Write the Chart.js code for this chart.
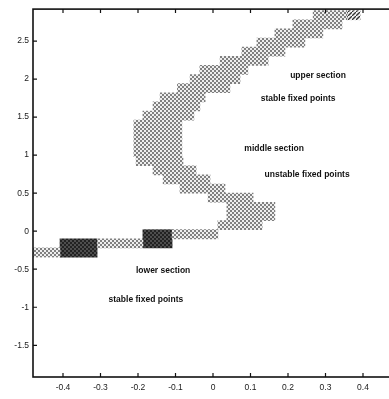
<!DOCTYPE html>
<html>
<head>
<meta charset="utf-8">
<script src="https://cdn.jsdelivr.net/npm/chart.js@4.4.1/dist/chart.umd.min.js"></script>
<style>
  html, body { margin: 0; padding: 0; background: #fff; overflow: hidden; }
  canvas { display: block; }
</style>
</head>
<body>
<canvas id="c" width="400" height="399"></canvas>
<script>
// Fixed-point band: one row every 0.12 in y, each row spans [from, to] in x
const lightY = [2.84, 2.72, 2.60, 2.48, 2.36, 2.24, 2.12, 2.00, 1.88, 1.76, 1.64, 1.52, 1.40,
                1.28, 1.16, 1.04, 0.92, 0.80, 0.68, 0.56, 0.44, 0.32, 0.20, 0.08, -0.04, -0.16, -0.28];
const lightFrom = [0.267, 0.213, 0.165, 0.117, 0.077, 0.019, -0.035, -0.061, -0.095, -0.141, -0.160, -0.187, -0.211,
                   -0.211, -0.211, -0.211, -0.205, -0.160, -0.133, -0.088, -0.013, 0.037, 0.037, 0.013, -0.109, -0.307, -0.483];
const lightTo = [0.357, 0.344, 0.293, 0.245, 0.192, 0.147, 0.093, 0.072, 0.045, -0.021, -0.035, -0.051, -0.083,
                 -0.083, -0.083, -0.083, -0.080, -0.045, -0.008, 0.032, 0.107, 0.165, 0.165, 0.131, 0.013, -0.187, -0.408];

// Dense (dark) blocks of the lower section
const darkY = [-0.04, -0.16, -0.16, -0.28];
const darkFrom = [-0.187, -0.187, -0.408, -0.408];
const darkTo = [-0.109, -0.109, -0.309, -0.309];

// Hatched cell at the top end of the band
const hatchY = [2.84];
const hatchFrom = [0.357];
const hatchTo = [0.392];

// Axis ticks
const xTicks = [-0.4, -0.3, -0.2, -0.1, 0, 0.1, 0.2, 0.3, 0.4];
const yTicks = [-1.5, -1, -0.5, 0, 0.5, 1, 1.5, 2, 2.5];

// Section notes (placed in data coordinates)
const notes = ['upper section', 'stable fixed points', 'middle section',
               'unstable fixed points', 'lower section', 'stable fixed points'];
const noteX = [0.28, 0.227, 0.163, 0.251, -0.133, -0.179];
const noteY = [2.047, 1.747, 1.082, 0.743, -0.522, -0.90];

const FONT = '"Liberation Sans", Arial, sans-serif';

function stipple(base, dot) {
  const t = document.createElement('canvas');
  t.width = 4; t.height = 4;
  const g = t.getContext('2d');
  g.fillStyle = base; g.fillRect(0, 0, 4, 4);
  g.fillStyle = dot; g.fillRect(0, 0, 2, 2); g.fillRect(2, 2, 2, 2);
  return g.createPattern(t, 'repeat');
}
function hatch(line) {
  const t = document.createElement('canvas');
  t.width = 4; t.height = 4;
  const g = t.getContext('2d');
  g.fillStyle = '#f2f2f2'; g.fillRect(0, 0, 4, 4);
  g.strokeStyle = line; g.lineWidth = 1.3;
  g.beginPath(); g.moveTo(-1, 5); g.lineTo(5, -1); g.stroke();
  return g.createPattern(t, 'repeat');
}

const rows = (ys, from, to) => ys.map((y, i) => ({ y: y, x: [from[i], to[i]] }));

const notePlugin = {
  id: 'notes',
  afterDatasetsDraw(chart) {
    const { ctx, scales: { x, y } } = chart;
    ctx.save();
    ctx.font = 'bold 8.5px ' + FONT;
    ctx.fillStyle = '#111';
    ctx.textAlign = 'center';
    ctx.textBaseline = 'middle';
    notes.forEach((t, i) => ctx.fillText(t, x.getPixelForValue(noteX[i]), y.getPixelForValue(noteY[i])));
    ctx.restore();
  }
};

// Box frame with inward tick marks on all four sides
const framePlugin = {
  id: 'frame',
  afterDraw(chart) {
    const { ctx, chartArea: { left, right, top, bottom }, scales: { x, y } } = chart;
    ctx.save();
    ctx.strokeStyle = '#111';
    ctx.lineWidth = 1.6;
    ctx.strokeRect(left, top, right - left, bottom - top);
    ctx.lineWidth = 1.2;
    ctx.beginPath();
    xTicks.forEach(v => {
      const px = x.getPixelForValue(v);
      ctx.moveTo(px, bottom); ctx.lineTo(px, bottom - 4);
      ctx.moveTo(px, top); ctx.lineTo(px, top + 4);
    });
    yTicks.forEach(v => {
      const py = y.getPixelForValue(v);
      ctx.moveTo(left, py); ctx.lineTo(left + 4, py);
      ctx.moveTo(right, py); ctx.lineTo(right - 4, py);
    });
    ctx.stroke();
    ctx.restore();
  }
};

new Chart(document.getElementById('c'), {
  type: 'bar',
  data: {
    datasets: [
      { data: rows(lightY, lightFrom, lightTo), backgroundColor: stipple('#eeeeee', '#808080') },
      { data: rows(darkY, darkFrom, darkTo), backgroundColor: stipple('#4e4e4e', '#222222') },
      { data: rows(hatchY, hatchFrom, hatchTo), backgroundColor: hatch('#333') }
    ]
  },
  options: {
    indexAxis: 'y',
    responsive: false,
    devicePixelRatio: 1,
    animation: false,
    datasets: { bar: { grouped: false, barPercentage: 1, categoryPercentage: 1, borderWidth: 0 } },
    layout: { padding: { top: 6, right: 7, left: 0, bottom: 0 } },
    plugins: { legend: { display: false }, tooltip: { enabled: false } },
    scales: {
      x: {
        type: 'linear', min: -0.48, max: 0.48,
        grid: { display: false, drawTicks: false },
        border: { display: false },
        afterBuildTicks: s => { s.ticks = xTicks.map(v => ({ value: v })); },
        afterFit: s => { s.height = 22; },
        ticks: { padding: 6, color: '#1a1a1a', font: { size: 8.5, family: FONT },
                 maxRotation: 0, autoSkip: false, callback: v => String(v) }
      },
      y: {
        type: 'linear', min: -1.917, max: 2.92, offset: false,
        grid: { display: false, drawTicks: false, offset: false },
        border: { display: false },
        afterBuildTicks: s => { s.ticks = yTicks.map(v => ({ value: v })); },
        afterFit: s => { s.width = 33; },
        ticks: { padding: 4, color: '#1a1a1a', font: { size: 8.5, family: FONT },
                 autoSkip: false, callback: v => String(v) }
      }
    }
  },
  plugins: [notePlugin, framePlugin]
});
</script>
</body>
</html>
